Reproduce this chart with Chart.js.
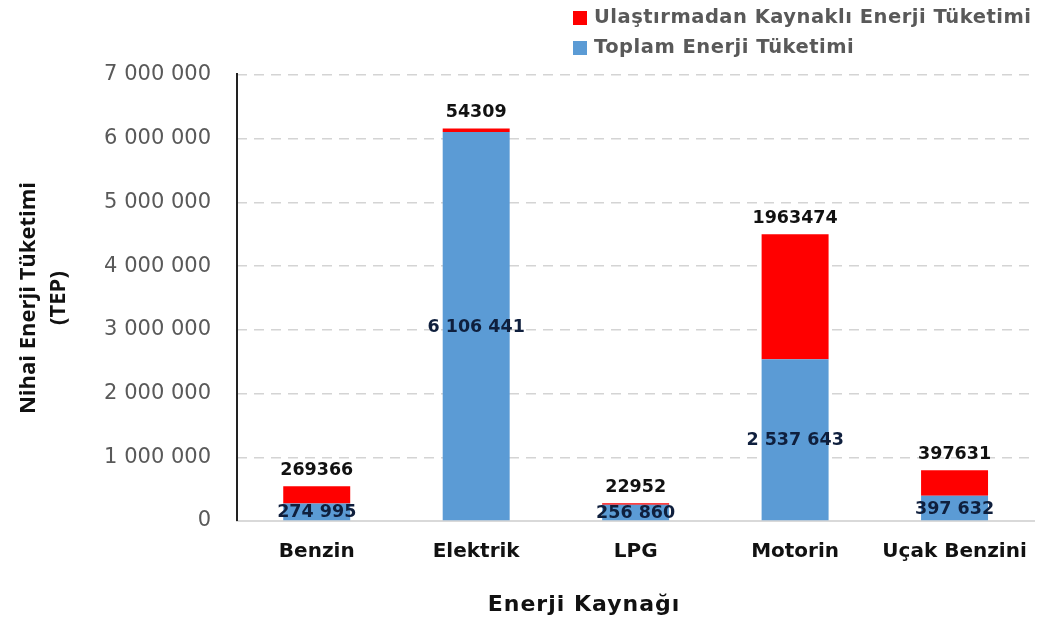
<!DOCTYPE html>
<html>
<head>
<meta charset="utf-8">
<script src="https://cdn.jsdelivr.net/npm/chart.js@4/dist/chart.umd.min.js"></script>
<style>
  html, body { margin: 0; padding: 0; background: #fff; }
  #wrap { width: 1047px; height: 624px; position: relative; }
</style>
</head>
<body>
<div id="wrap"><canvas id="barChart"></canvas></div>
<script>
// veriler
var categories = ['Benzin', 'Elektrik', 'LPG', 'Motorin', 'Uçak Benzini'];
var toplamEnerji = [274995, 6106441, 256860, 2537643, 397632];
var ulastirmaEnerji = [269366, 54309, 22952, 1963474, 397631];
var yMax = 7000000;
var yStep = 1000000;
var xTitle = 'Enerji Kaynağı';
var yTitle = ['Nihai Enerji Tüketimi', '(TEP)'];

function spaced(v) {
    return String(v).replace(/\B(?=(\d{3})+(?!\d))/g, ' ');
}

// bar üstü / içi etiketler
var valueLabels = {
    id: 'valueLabels',
    afterDatasetsDraw: function(chart) {
        var ctx = chart.ctx;
        ctx.save();
        ctx.textAlign = 'center';
        ctx.font = 'bold 17.5px "DejaVu Sans"';
        chart.data.datasets.forEach(function(ds, i) {
            var meta = chart.getDatasetMeta(i);
            meta.data.forEach(function(bar, j) {
                var v = ds.data[j];
                if (i === 0) {
                    ctx.fillStyle = '#0f1f3d';
                    ctx.textBaseline = 'middle';
                    ctx.fillText(spaced(v), bar.x, (bar.y + bar.base) / 2 + 1);
                } else {
                    ctx.fillStyle = '#111';
                    ctx.textBaseline = 'bottom';
                    ctx.fillText(String(v), bar.x, bar.y - 7);
                }
            });
        });
        ctx.restore();
    }
};

// dikey eksen çizgisi (düz), x ekseni başlığı ve iki satırlı lejant
var extras = {
    id: 'extras',
    beforeDatasetsDraw: function(chart) {
        var ctx = chart.ctx;
        var a = chart.chartArea;
        ctx.save();
        ctx.strokeStyle = '#222';
        ctx.lineWidth = 2;
        ctx.beginPath();
        ctx.moveTo(a.left, a.top - 2);
        ctx.lineTo(a.left, a.bottom);
        ctx.stroke();
        ctx.restore();
    },
    afterDraw: function(chart) {
        var ctx = chart.ctx;
        ctx.save();
        ctx.fillStyle = '#111';
        ctx.textAlign = 'center';
        ctx.textBaseline = 'middle';
        ctx.font = 'bold 22px "DejaVu Sans"';
        ctx.letterSpacing = '1px';
        ctx.fillText(xTitle, 584, 605);

        var ds = chart.data.datasets.slice().reverse();
        ctx.font = 'bold 19.5px "DejaVu Sans"';
        ctx.letterSpacing = '0.5px';
        ctx.textAlign = 'left';
        ds.forEach(function(d, k) {
            var y = 18 + k * 30;
            ctx.fillStyle = d.backgroundColor;
            ctx.fillRect(573, y - 7, 14, 14);
            ctx.fillStyle = '#595959';
            ctx.fillText(d.label, 594, y);
        });
        ctx.restore();
    }
};

var ctx = document.getElementById('barChart').getContext('2d');
var chart = new Chart(ctx, {
    type: 'bar',
    data: {
        labels: categories,
        datasets: [{
            label: 'Toplam Enerji Tüketimi',
            data: toplamEnerji,
            backgroundColor: '#5b9bd5',
            categoryPercentage: 0.6,
            barPercentage: 0.7
        }, {
            label: 'Ulaştırmadan Kaynaklı Enerji Tüketimi',
            data: ulastirmaEnerji,
            backgroundColor: '#ff0000',
            categoryPercentage: 0.6,
            barPercentage: 0.7
        }]
    },
    options: {
        responsive: true,
        maintainAspectRatio: false,
        animation: false,
        layout: { padding: { top: 75, right: 12, left: 10, bottom: 41 } },
        plugins: {
            legend: { display: false },
            tooltip: { enabled: false }
        },
        scales: {
            x: {
                stacked: true,
                grid: { display: false, drawTicks: false },
                border: { color: '#d9d9d9', width: 2 },
                ticks: {
                    color: '#111',
                    padding: 19,
                    font: { family: 'DejaVu Sans', size: 20, weight: 'bold' }
                }
            },
            y: {
                stacked: true,
                min: 0,
                max: yMax,
                afterFit: function(scale) { scale.width = 227; },
                ticks: {
                    stepSize: yStep,
                    color: '#595959',
                    padding: 26,
                    font: { family: 'DejaVu Sans', size: 21 },
                    callback: function(v) { return spaced(v); }
                },
                grid: {
                    color: '#d4d4d4',
                    lineWidth: 1.5,
                    drawTicks: false
                },
                border: { display: false, dash: [10, 7] },
                title: {
                    display: true,
                    text: yTitle,
                    color: '#111',
                    padding: { top: 4, bottom: 0 },
                    font: { family: 'Open Sans', size: 22, weight: 'bold', lineHeight: 1.35 }
                }
            }
        }
    },
    plugins: [valueLabels, extras]
});
</script>
</body>
</html>
